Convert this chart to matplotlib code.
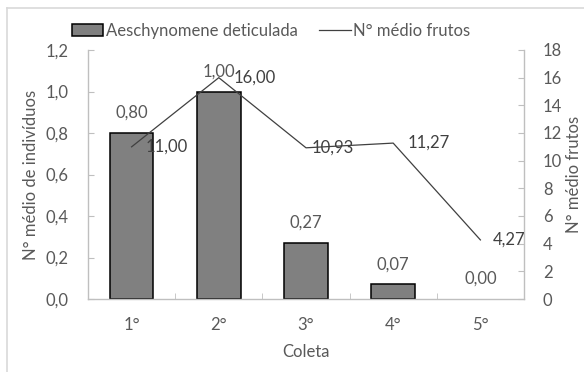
import matplotlib
matplotlib.use("Agg")
import matplotlib.pyplot as plt
from matplotlib.lines import Line2D
from matplotlib.patches import Patch

plt.rcParams['font.family'] = ['Lato', 'DejaVu Sans']

coletas = ["1°", "2°", "3°", "4°", "5°"]
individuos = [0.80, 1.00, 0.27, 0.07, 0.00]
frutos = [11.00, 16.00, 10.93, 11.27, 4.27]
bar_label = "Aeschynomene deticulada"
line_label = "N° médio frutos"

TXT = "#595959"
AX = "#BFBFBF"
FS = 12

def br(v, d):
    return f"{v:.{d}f}".replace(".", ",")

fig = plt.figure(figsize=(5.84, 3.72), dpi=100)
ax = fig.add_axes([88/584, 1-299/372, (524-88)/584, (299-50)/372])
ax2 = ax.twinx()

x = list(range(len(coletas)))
bars = ax.bar(x, individuos, width=0.5, color="#808080", edgecolor="black", linewidth=1.1, zorder=2)
for b, v in zip(bars, individuos):
    if v == 0:
        b.set_linewidth(0)
ax2.plot(x, frutos, color="#404040", linewidth=0.9, zorder=3)

ax.set_xlim(-0.5, len(coletas) - 0.5)
ax.set_ylim(0, 1.2)
ax2.set_ylim(0, 18)
ax.set_yticks([0, 0.2, 0.4, 0.6, 0.8, 1.0, 1.2])
ax.set_yticklabels([br(v, 1) for v in ax.get_yticks()])
ax2.set_yticks(range(0, 19, 2))
ax.set_xticks(x)
ax.set_xticklabels(coletas)
ax.set_xticks([i + 0.5 for i in x[:-1]], minor=True)

for a in (ax, ax2):
    for s in a.spines.values():
        s.set_visible(False)
ax.spines['left'].set_visible(True)
ax.spines['bottom'].set_visible(True)
ax2.spines['right'].set_visible(True)
for s in (ax.spines['left'], ax.spines['bottom'], ax2.spines['right']):
    s.set_color(AX)
    s.set_linewidth(1.0)

ax.tick_params(axis='y', direction='in', length=4, color=AX, labelcolor=TXT, labelsize=FS, pad=14)
ax2.tick_params(axis='y', direction='in', length=4, color=AX, labelcolor=TXT, labelsize=FS, pad=13.5)
ax.tick_params(axis='x', which='major', length=0, labelcolor=TXT, labelsize=FS, pad=13)
ax.tick_params(axis='x', which='minor', direction='in', length=4, color=AX)

ax.set_xlabel("Coleta", color=TXT, fontsize=FS, labelpad=8)
ax.set_ylabel("N° médio de indivíduos", color=TXT, fontsize=FS, labelpad=5)
ax2.set_ylabel(line_label, color=TXT, fontsize=FS, labelpad=3)

for xi, v in zip(x, individuos):
    ax.annotate(br(v, 2), (xi, v), xytext=(0, 12), textcoords='offset pixels',
                ha='center', va='bottom', color=TXT, fontsize=FS)

line_offsets = [14, 15, 6, 14, 12]
for xi, v, dx in zip(x, frutos, line_offsets):
    ax2.annotate(br(v, 2), (xi, v), xytext=(dx, 0), textcoords='offset pixels',
                 ha='left', va='center', color="#404040", fontsize=FS)

handles = [Patch(facecolor="#808080", edgecolor="black", linewidth=1.1),
           Line2D([0], [0], color="#404040", linewidth=0.9)]
fig.legend(handles, [bar_label, line_label], loc='center', ncol=2,
           bbox_to_anchor=(271/584, 1-31/372), frameon=False, fontsize=FS,
           labelcolor=TXT, handlelength=1.9, handleheight=0.7, handletextpad=0.15,
           columnspacing=1.3)

# chart frame
fig.add_artist(Line2D([7/584, 1], [1-8/372, 1-8/372], color="#D9D9D9", linewidth=1.2))
fig.add_artist(Line2D([7/584, 7/584], [0, 1-8/372], color="#D9D9D9", linewidth=1.2))

fig.savefig("out.png", dpi=100, facecolor="white")
